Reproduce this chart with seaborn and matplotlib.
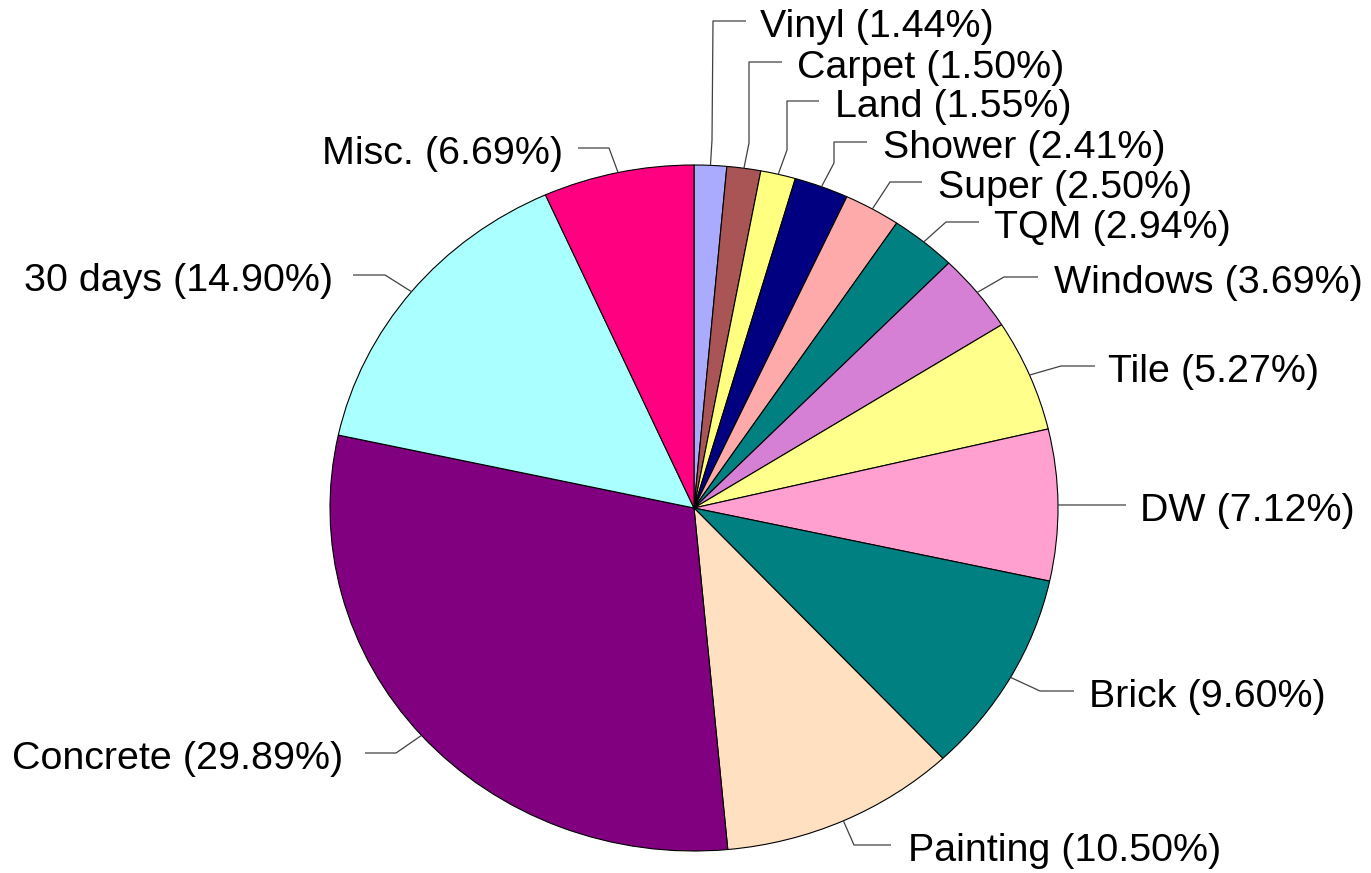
import matplotlib
matplotlib.use("Agg")
import matplotlib.pyplot as plt
import numpy as np
import seaborn as sns

# data
labels = ["Vinyl", "Carpet", "Land", "Shower", "Super", "TQM", "Windows",
          "Tile", "DW", "Brick", "Painting", "Concrete", "30 days", "Misc."]
shares = [1.44, 1.50, 1.55, 2.41, 2.50, 2.94, 3.69,
          5.27, 7.12, 9.60, 10.50, 29.89, 14.90, 6.69]
colors = ["#AAAAFF", "#AA5555", "#FFFF80", "#000080", "#FFAAAA", "#008080", "#D580D5",
          "#FFFF8C", "#FFA0D0", "#008080", "#FFE0C0", "#800080", "#AAFFFF", "#FF0080"]

# layout (pixels): pie centre / radii, leader elbows, text anchors
CX, CY, RX, RY = 694, 508, 364, 343
elbows_px = [
    [(712, 140), (713, 21), (746, 21)],
    [(749, 143), (749, 62), (782, 62)],
    [(787, 150), (787, 101), (819, 101)],
    [(834, 163), (834, 142), (867, 142)],
    [(890, 182), (922, 182)],
    [(946, 222), (979, 222)],
    [(1004, 277), (1038, 277)],
    [(1061, 366), (1095, 366)],
    [(1126, 505)],
    [(1040, 691), (1074, 691)],
    [(854, 845), (891, 845)],
    [(396, 753), (365, 753)],
    [(385, 275), (353, 275)],
    [(609, 148), (578, 148)],
]
text_x_px = [760, 797, 835, 883, 938, 994, 1054, 1108, 1140, 1089, 908, 343, 333, 563]


def px2x(px):
    return (px - CX) / RX


def py2y(py):
    return (CY - py) / RY


sns.set_theme(style="white")
plt.rcParams["font.family"] = ["Liberation Sans", "DejaVu Sans"]

fig = plt.figure(figsize=(13.71, 8.73), dpi=100)
ax = fig.add_axes([0, 0, 1, 1])

wedges, _ = ax.pie(shares, colors=sns.color_palette(colors), startangle=90,
                   counterclock=False, radius=1,
                   wedgeprops=dict(edgecolor="black", linewidth=0.8))
ax.set_aspect("auto")
ax.set_xlim(px2x(0), px2x(1371))
ax.set_ylim(py2y(873), py2y(0))
ax.axis("off")

for w, lab, val, elb, tx in zip(wedges, labels, shares, elbows_px, text_x_px):
    ang = np.deg2rad((w.theta1 + w.theta2) / 2)
    xs = [np.cos(ang)] + [px2x(p[0]) for p in elb]
    ys = [np.sin(ang)] + [py2y(p[1]) for p in elb]
    ax.plot(xs, ys, color="#404040", lw=0.9, solid_capstyle="butt")
    right_side = elb[-1][0] > CX
    ax.text(px2x(tx), py2y(elb[-1][1] + 6), f"{lab} ({val:.2f}%)",
            ha="left" if right_side else "right", va="center",
            fontsize=28.4, color="black")

fig.savefig("out.png", dpi=100, facecolor="white")
